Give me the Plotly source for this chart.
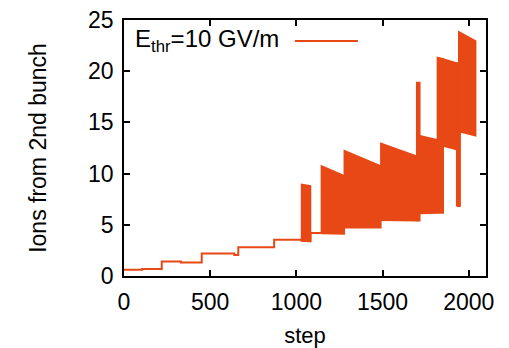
import plotly.graph_objects as go

# staircase part (step, ions)
stair_x = [0, 105, 219, 330, 451, 640, 663, 871, 1030, 1082, 1145]
stair_y = [0.6, 0.68, 1.42, 1.32, 2.2, 2.05, 2.8, 3.55, 3.45, 4.2, 4.2]

# oscillating bands: start step, end step, low at start, low at end, high at start, high at end
band_start = [1030, 1145, 1278, 1490, 1698, 1716, 1818, 1852, 1930, 1942]
band_end = [1082, 1278, 1490, 1700, 1716, 1818, 1852, 1940, 1950, 2040]
band_low0 = [3.45, 4.15, 4.7, 5.45, 5.4, 6.1, 6.15, 12.7, 6.8, 14.1]
band_low1 = [3.35, 4.1, 4.7, 5.4, 5.4, 6.15, 6.15, 12.3, 6.8, 13.7]
band_high0 = [8.95, 10.75, 12.25, 12.95, 18.9, 13.7, 21.35, 21.2, 20.8, 23.85]
band_high1 = [8.8, 9.8, 10.75, 11.7, 18.9, 13.3, 21.2, 20.75, 20.7, 22.95]

x_ticks = [0, 500, 1000, 1500, 2000]
y_ticks = [0, 5, 10, 15, 20, 25]

COLOR = "rgb(232,72,22)"
FONT = "Liberation Sans, Arial, sans-serif"

fig = go.Figure()
fig.add_trace(go.Scatter(x=stair_x, y=stair_y, mode="lines",
                         line=dict(color=COLOR, width=2, shape="hv"),
                         showlegend=False, hoverinfo="skip"))

px, py = [], []
for s, e, l0, l1, h0, h1 in zip(band_start, band_end, band_low0, band_low1, band_high0, band_high1):
    px += [s, s, e, e, s, None]
    py += [l0, h0, h1, l1, l0, None]
fig.add_trace(go.Scatter(x=px, y=py, mode="lines", fill="toself",
                         fillcolor=COLOR, line=dict(color=COLOR, width=1.5),
                         showlegend=False, hoverinfo="skip"))

axis_common = dict(showline=True, linecolor="black", linewidth=1.5, mirror="allticks",
                   ticks="inside", ticklen=6, tickwidth=1.5, tickcolor="black",
                   showgrid=False, zeroline=False, automargin=False,
                   ticklabeloverflow="allow",
                   tickfont=dict(family=FONT, size=23, color="black"))

fig.update_xaxes(range=[0, 2100], tickvals=x_ticks, ticklabelstandoff=5,
                 title=dict(text="step", font=dict(family=FONT, size=22, color="black"), standoff=16),
                 **axis_common)
fig.update_yaxes(range=[0, 25], tickvals=y_ticks, ticklabelstandoff=4,
                 title=dict(text="Ions from 2nd bunch", font=dict(family=FONT, size=23, color="black"), standoff=35),
                 **axis_common)

fig.add_annotation(xref="paper", yref="paper", x=0.025, y=0.92, xanchor="left", yanchor="middle",
                   text="E<sub>thr</sub>=10 GV/m", showarrow=False,
                   font=dict(family=FONT, size=24, color="black"))
fig.add_shape(type="line", xref="paper", yref="paper", x0=0.472, x1=0.646, y0=0.918, y1=0.918,
              line=dict(color=COLOR, width=2))

# the page body has an 8px default margin, so the figure is sized to put the plot area where the reference has it
fig.update_layout(width=501, height=340, margin=dict(l=116, r=23, t=12, b=72),
                  plot_bgcolor="white", paper_bgcolor="white", showlegend=False)

fig.write_html("out.html")
